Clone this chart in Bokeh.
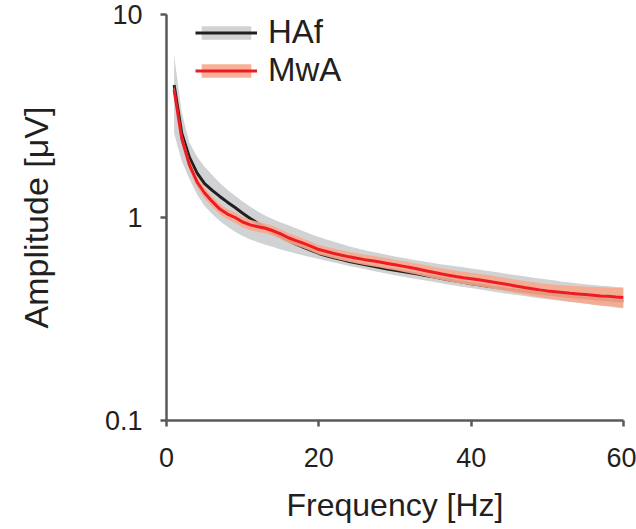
from bokeh.plotting import figure
from bokeh.models import (Range1d, FixedTicker, CustomJSTickFormatter, Legend,
                          LegendItem, ColumnDataSource)
from bokeh.embed import file_html
from bokeh.resources import INLINE

# Frequency bins [Hz]
freq = list(range(1, 61))

# HAf group: mean amplitude and shaded band limits [uV]
haf_mean = [4.5, 2.6, 1.98, 1.66, 1.47, 1.36, 1.27, 1.19, 1.12, 1.05,
            0.99, 0.935, 0.89, 0.845, 0.805, 0.77, 0.74, 0.713, 0.688, 0.665,
            0.648, 0.633, 0.62, 0.607, 0.596, 0.586, 0.576, 0.567, 0.558, 0.55,
            0.542, 0.534, 0.526, 0.518, 0.51, 0.502, 0.494, 0.486, 0.479, 0.472,
            0.466, 0.46, 0.454, 0.448, 0.443, 0.438, 0.433, 0.428, 0.424, 0.42,
            0.416, 0.412, 0.408, 0.405, 0.402, 0.399, 0.396, 0.393, 0.39, 0.388]
haf_upper = [6.3, 3.3, 2.35, 2.0, 1.78, 1.62, 1.48, 1.37, 1.28, 1.2,
             1.13, 1.07, 1.02, 0.98, 0.945, 0.915, 0.885, 0.855, 0.828, 0.802,
             0.78, 0.76, 0.74, 0.72, 0.705, 0.69, 0.678, 0.666, 0.654, 0.643,
             0.633, 0.623, 0.614, 0.605, 0.597, 0.589, 0.582, 0.575, 0.568, 0.561,
             0.554, 0.547, 0.54, 0.533, 0.526, 0.52, 0.514, 0.507, 0.501, 0.495,
             0.489, 0.483, 0.478, 0.473, 0.469, 0.465, 0.461, 0.458, 0.455, 0.453]
haf_lower = [2.6, 1.9, 1.55, 1.3, 1.14, 1.04, 0.96, 0.9, 0.85, 0.81,
             0.78, 0.755, 0.735, 0.715, 0.695, 0.68, 0.665, 0.65, 0.637, 0.624,
             0.612, 0.6, 0.588, 0.577, 0.567, 0.557, 0.547, 0.538, 0.529, 0.52,
             0.512, 0.504, 0.496, 0.489, 0.482, 0.475, 0.468, 0.461, 0.455, 0.449,
             0.443, 0.437, 0.431, 0.425, 0.42, 0.415, 0.41, 0.405, 0.4, 0.396,
             0.392, 0.388, 0.384, 0.38, 0.376, 0.372, 0.368, 0.364, 0.36, 0.357]

# MwA group: mean amplitude and standard error [uV]
mwa_mean = [4.25, 2.45, 1.82, 1.5, 1.32, 1.2, 1.1, 1.04, 1.0, 0.95,
            0.92, 0.9, 0.885, 0.86, 0.83, 0.795, 0.77, 0.745, 0.72, 0.695,
            0.68, 0.665, 0.652, 0.64, 0.63, 0.62, 0.612, 0.603, 0.594, 0.585,
            0.576, 0.567, 0.557, 0.547, 0.537, 0.528, 0.52, 0.512, 0.505, 0.499,
            0.493, 0.487, 0.48, 0.473, 0.466, 0.459, 0.452, 0.446, 0.44, 0.435,
            0.431, 0.427, 0.423, 0.42, 0.417, 0.414, 0.411, 0.409, 0.406, 0.404]
mwa_se = [0.25, 0.15, 0.11, 0.09, 0.08, 0.07, 0.065, 0.06, 0.058, 0.056,
          0.054, 0.052, 0.05, 0.048, 0.046, 0.044, 0.042, 0.04, 0.039, 0.038,
          0.037, 0.037, 0.037, 0.037, 0.036, 0.036, 0.036, 0.036, 0.036, 0.035,
          0.035, 0.035, 0.035, 0.035, 0.035, 0.035, 0.035, 0.035, 0.035, 0.035,
          0.035, 0.035, 0.035, 0.035, 0.035, 0.035, 0.035, 0.035, 0.035, 0.035,
          0.036, 0.037, 0.038, 0.039, 0.04, 0.041, 0.042, 0.043, 0.044, 0.045]

x_ticks = [0, 20, 40, 60]
y_ticks = [0.1, 1, 10]

mwa_lower = [m - s for m, s in zip(mwa_mean, mwa_se)]
mwa_upper = [m + s for m, s in zip(mwa_mean, mwa_se)]

src = ColumnDataSource(dict(f=freq, hm=haf_mean, hl=haf_lower, hu=haf_upper,
                            mm=mwa_mean, ml=mwa_lower, mu=mwa_upper))

p = figure(width=636, height=529, x_range=Range1d(0, 60), y_range=Range1d(0.1, 10),
           y_axis_type="log", output_backend="svg", toolbar_location=None,
           min_border_left=166, min_border_right=13, min_border_top=14,
           min_border_bottom=109)
p.outline_line_color = None
p.grid.visible = False
p.background_fill_color = "white"
p.border_fill_color = "white"

g_band = p.varea(x="f", y1="hl", y2="hu", source=src, fill_color="#D1D2D4")
g_line = p.line("f", "hm", source=src, line_color="#231F20", line_width=3)
o_band = p.varea(x="f", y1="ml", y2="mu", source=src, fill_color="#F7A98C", fill_alpha=0.9)
r_line = p.line("f", "mm", source=src, line_color="#ED1C24", line_width=3)

legend = Legend(items=[LegendItem(label="HAf", renderers=[g_band, g_line]),
                       LegendItem(label="MwA", renderers=[o_band, r_line])],
                location=(29, 331), orientation="vertical",
                glyph_width=62, glyph_height=17, label_height=37,
                label_text_font="Liberation Sans", label_text_font_size="33px",
                label_text_color="#231F20", label_standoff=11, spacing=0,
                padding=0, margin=0, border_line_color=None,
                background_fill_alpha=0)
p.add_layout(legend)

p.xaxis.ticker = FixedTicker(ticks=x_ticks)
p.yaxis.ticker = FixedTicker(ticks=y_ticks)
p.yaxis.formatter = CustomJSTickFormatter(
    code="return tick >= 1 ? tick.toFixed(0) : tick.toFixed(1);")

for ax in (p.xaxis[0], p.yaxis[0]):
    ax.axis_line_color = "#58595B"
    ax.axis_line_width = 2.5
    ax.major_tick_line_color = "#58595B"
    ax.major_tick_line_width = 2.5
    ax.major_tick_in = 0
    ax.major_tick_out = 6
    ax.minor_tick_line_color = None
    ax.major_label_text_font = "Liberation Sans"
    ax.major_label_text_font_size = "27px"
    ax.major_label_text_color = "#231F20"
    ax.axis_label_text_font = "Liberation Sans"
    ax.axis_label_text_font_style = "normal"
    ax.axis_label_text_color = "#231F20"

p.xaxis.axis_label = "Frequency [Hz]"
p.xaxis.axis_label_text_font_size = "32px"
p.xaxis.major_label_standoff = 21
p.xaxis.axis_label_standoff = 17

p.yaxis.axis_label = "Amplitude [μV]"
p.yaxis.axis_label_text_font_size = "34px"
p.yaxis.major_label_standoff = 18
p.yaxis.axis_label_standoff = 47

open("out.html", "w").write(file_html(p, INLINE))
